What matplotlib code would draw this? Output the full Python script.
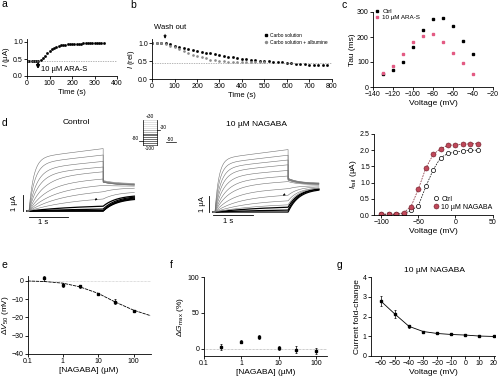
import matplotlib
matplotlib.use('Agg')
import matplotlib.pyplot as plt
import numpy as np

plt.rcParams['font.family'] = ['Liberation Sans', 'DejaVu Sans']
plt.rcParams['font.size'] = 5
plt.rcParams['axes.linewidth'] = 0.6
plt.rcParams['mathtext.fontset'] = 'custom'
plt.rcParams['mathtext.rm'] = 'Liberation Sans'
plt.rcParams['mathtext.it'] = 'Liberation Sans:italic'

# ---- data ----
# a: current after ARA-S
a_time = [0, 10, 20, 30, 40, 50, 60, 70, 80, 90, 100, 110, 120, 130, 140, 150, 160, 170,
          180, 190, 200, 210, 220, 230, 240, 250, 260, 270, 280, 290, 300, 310, 320, 330, 340]
a_curr = [0.45, 0.45, 0.45, 0.45, 0.45, 0.44, 0.46, 0.52, 0.6, 0.67, 0.73, 0.78, 0.83, 0.86,
          0.88, 0.9, 0.91, 0.92, 0.93, 0.94, 0.94, 0.95, 0.95, 0.95, 0.95, 0.96, 0.96, 0.96,
          0.96, 0.96, 0.97, 0.97, 0.97, 0.97, 0.97]

# b: wash out
b_time_carbo = list(range(0, 781, 20))
b_carbo = [1.0, 1.0, 1.0, 0.99, 0.96, 0.93, 0.9, 0.86, 0.83, 0.8, 0.77, 0.75, 0.73, 0.71,
           0.69, 0.67, 0.64, 0.62, 0.6, 0.58, 0.56, 0.55, 0.54, 0.52, 0.51, 0.5, 0.49, 0.48,
           0.47, 0.46, 0.45, 0.44, 0.43, 0.42, 0.41, 0.4, 0.4, 0.39, 0.38, 0.38]
b_time_alb = list(range(0, 501, 20))
b_alb = [1.0, 1.0, 1.0, 0.98, 0.93, 0.88, 0.83, 0.78, 0.73, 0.68, 0.64, 0.6, 0.57, 0.54,
         0.52, 0.5, 0.49, 0.48, 0.48, 0.47, 0.47, 0.47, 0.46, 0.46, 0.46, 0.46]

# c: tau vs voltage
c_volt = [-130, -120, -110, -100, -90, -80, -70, -60, -50, -40]
c_tau_ctrl = [54, 70, 102, 160, 228, 271, 275, 244, 185, 133]
c_tau_ara = [56, 86, 133, 180, 205, 212, 180, 137, 95, 54]

# d: current traces (-100 ... +30 mV steps, amplitude at end of step, uA)
d_amp_ctrl = [0, 0, 0.02, 0.12, 0.3, 0.75, 1.2, 1.6, 2.0, 2.45, 2.75, 3.1, 3.5, 3.9]
d_tau_ctrl = [1.5, 1.5, 1.5, 1.4, 1.2, 1.0, 0.8, 0.6, 0.45, 0.35, 0.25, 0.2, 0.15, 0.12]
d_tail0_ctrl = [0, 0, 0.02, 0.12, 0.3, 0.75, 1.2, 1.6, 1.8, 1.8, 1.8, 1.85, 1.85, 1.9]
d_tailinf_ctrl = [0.8, 0.85, 0.9, 0.95, 1.0, 1.2, 1.45, 1.55, 1.6, 1.6, 1.62, 1.64, 1.66, 1.7]
d_amp_nag = [0, 0.12, 0.3, 0.45, 0.7, 1.05, 1.45, 1.9, 2.25, 2.6, 2.95, 3.25, 3.55, 3.9]
d_tau_nag = [1.5, 1.4, 1.2, 1.0, 0.8, 0.6, 0.45, 0.35, 0.28, 0.22, 0.18, 0.15, 0.12, 0.1]
d_tail0_nag = [0, 0.12, 0.3, 0.45, 0.7, 1.05, 1.45, 1.9, 2.0, 2.0, 2.05, 2.05, 2.1, 2.1]
d_tailinf_nag = [1.45, 1.5, 1.5, 1.55, 1.55, 1.6, 1.65, 1.7, 1.72, 1.74, 1.75, 1.76, 1.78, 1.8]
prot_levels = [-100, -90, -80, -70, -60, -50, -40, -30, -20, -10, 0, 10, 20, 30]

# d right: tail current vs voltage
iv_volt = [-100, -90, -80, -70, -60, -50, -40, -30, -20, -10, 0, 10, 20, 30]
iv_ctrl = [0.02, 0.02, 0.02, 0.04, 0.14, 0.29, 0.88, 1.4, 1.77, 1.9, 1.94, 1.98, 2.0, 2.0]
iv_nag = [0.03, 0.03, 0.03, 0.07, 0.26, 0.81, 1.45, 1.87, 2.05, 2.15, 2.17, 2.18, 2.2, 2.2]

# e: dV50 vs concentration
conc = [0.3, 1, 3, 10, 30, 100]
e_dv50 = [1.5, -2.2, -3.0, -7.0, -11.3, -16.4]
e_err = [1.5, 1.0, 0.6, 0.6, 1.5, 0.6]
e_fit_x = [0.1, 0.3, 1, 3, 10, 30, 100, 300]
e_fit_y = [0, -0.3, -1.2, -3.2, -6.8, -11.5, -16.0, -19.0]

# f: dGmax vs concentration
f_dg = [2.3, 10, 16, 1, -1.5, -3]
f_err = [4, 2, 3, 3, 5, 4]

# g: fold change vs voltage
g_volt = [-60, -50, -40, -30, -20, -10, 0, 10, 20]
g_fold = [2.78, 2.12, 1.5, 1.24, 1.14, 1.09, 1.06, 1.01, 0.99]
g_err = [0.25, 0.2, 0.08, 0.04, 0.03, 0.03, 0.03, 0.02, 0.02]

W, H = 500, 384
fig = plt.figure(figsize=(W / 100, H / 100), dpi=100)


def box(l, t, r, b):
    return fig.add_axes([l / W, 1 - b / H, (r - l) / W, (b - t) / H])


def ftext(x, y, s, **kw):
    fig.text(x / W, 1 - y / H, s, **kw)


def style(ax):
    for s in ['top', 'right']:
        ax.spines[s].set_visible(False)
    ax.tick_params(length=2, width=0.6, pad=1, labelsize=5)


# panel letters
for x, y, s in [(2, 4, 'a'), (130, 5, 'b'), (342, 5, 'c'), (2, 123, 'd'),
                (2, 265, 'e'), (170, 265, 'f'), (337, 265, 'g')]:
    ftext(x, y, s, fontsize=7.5, va='center', ha='left')

# ---- a ----
ax = box(27, 38.6, 117, 76)
style(ax)
ax.plot(a_time, a_curr, 's', color='k', ms=0.9)
ax.axhline(0.45, color='0.6', lw=0.5, ls=(0, (2, 1.5)))
ax.annotate('', xy=(49, 0.12), xytext=(49, 0.45),
            arrowprops=dict(arrowstyle='-|>', lw=1.4, color='k', mutation_scale=4))
ax.text(62, 0.2, '10 µM ARA-S', fontsize=5.5, va='center')
ax.set_xlim(0, 400)
ax.set_ylim(0, 1.1)
ax.set_xticks([0, 100, 200, 300, 400])
ax.set_yticks([0, 0.5, 1.0])
ax.set_yticklabels(['0.0', '0.5', '1.0'])
ax.set_xlabel('Time (s)', fontsize=5.5, labelpad=1)
ax.set_ylabel(r'$I$ (µA)', fontsize=5.5, labelpad=1)

# ---- b ----
ax = box(152, 39.4, 332, 79)
style(ax)
ax.plot(b_time_carbo, b_carbo, 's', color='k', ms=0.9, label='Carbo solution')
ax.plot(b_time_alb, b_alb, 'o', color='0.55', ms=0.9, label='Carbo solution + albumine')
ax.axhline(0.45, color='0.6', lw=0.5, ls=(0, (2, 1.5)))
ax.annotate('', xy=(58, 1.04), xytext=(58, 1.32), annotation_clip=False,
            arrowprops=dict(arrowstyle='-|>', lw=0.6, color='k', mutation_scale=4))
ax.text(80, 1.42, 'Wash out', fontsize=5.5, ha='center', va='center', clip_on=False)
ax.set_xlim(0, 800)
ax.set_ylim(0, 1.1)
ax.set_xticks(range(0, 801, 100))
ax.set_yticks([0, 0.5, 1.0])
ax.set_yticklabels(['0.0', '0.5', '1.0'])
ax.set_xlabel('Time (s)', fontsize=5.5, labelpad=1)
ax.set_ylabel(r'$I$ (rel)', fontsize=5.5, labelpad=1)
ax.legend(loc='upper left', bbox_to_anchor=(0.6, 1.28), frameon=False, fontsize=3.5,
          handlelength=0.6, handletextpad=0.6, labelspacing=0.4, markerscale=1.6)

# ---- c ----
ax = box(373, 12, 493, 87)
style(ax)
ax.plot(c_volt, c_tau_ctrl, 's', color='k', ms=1.8, label='Ctrl')
ax.plot(c_volt, c_tau_ara, 's', color='#e35a83', ms=1.8, label='10 µM ARA-S')
ax.set_xlim(-140, -20)
ax.set_ylim(0, 300)
ax.set_xticks(range(-140, -19, 20))
ax.set_yticks([0, 100, 200, 300])
ax.set_xlabel('Voltage (mV)', fontsize=6, labelpad=1)
ax.set_ylabel('Tau (ms)', fontsize=6, labelpad=1)
ax.legend(loc='upper left', bbox_to_anchor=(0.0, 1.08), frameon=False, fontsize=4.5,
          handlelength=0.6, handletextpad=0.5, labelspacing=0.2, borderaxespad=0)

# ---- d traces ----
step_dur, tail_dur = 1.9, 0.8


def draw_traces(ax, amp, tau, tail0, tailinf, ttau):
    for A, tu, a0, ai in zip(amp, tau, tail0, tailinf):
        ts = np.linspace(0, step_dur, 150)
        i_step = A * (0.85 * (1 - np.exp(-ts / tu)) / (1 - np.exp(-step_dur / tu))
                      + 0.15 * ts / step_dur)
        tt = np.linspace(0, tail_dur, 80)
        i_tail = ai + (a0 - ai) * np.exp(-tt / ttau)
        t = np.concatenate([[-0.05, 0], ts, step_dur + tt])
        cur = np.concatenate([[0, 0], i_step, i_tail])
        if A < 0.35:
            ax.plot(t, cur, color='k', lw=0.9)
        else:
            ax.plot(t, cur, color='0.45', lw=0.4)


ax = box(5, 115, 150, 225)
ax.axis('off')
draw_traces(ax, d_amp_ctrl, d_tau_ctrl, d_tail0_ctrl, d_tailinf_ctrl, 0.35)
ax.set_xlim(-0.615, 3.10)
ax.set_ylim(-0.875, 6.0)
ax.plot([-0.15, -0.15], [0, 1], color='k', lw=0.6)
ax.plot([0, 1], [-0.375, -0.375], color='k', lw=0.6)
ax.text(0.22, -0.72, '1 s', fontsize=5.5, va='center')
ax.text(-0.36, 0.5, '1 µA', fontsize=5.5, rotation=90, va='center', ha='center')
ax.annotate('', xy=(1.63, 0.55), xytext=(1.78, 0.85),
            arrowprops=dict(arrowstyle='-|>', lw=0.4, color='k', mutation_scale=3))
ftext(76, 123, 'Control', fontsize=6, ha='center', va='center')

ax = box(200, 115, 335, 225)
ax.axis('off')
draw_traces(ax, d_amp_nag, d_tau_nag, d_tail0_nag, d_tailinf_nag, 0.28)
ax.set_xlim(-0.39, 3.12)
ax.set_ylim(-0.81, 6.06)
ax.plot([-0.16, -0.16], [0, 1], color='k', lw=0.6)
ax.plot([-0.05, 1.0], [-0.19, -0.19], color='k', lw=0.6)
ax.text(0.2, -0.6, '1 s', fontsize=5.5, va='center')
ax.text(-0.32, 0.5, '1 µA', fontsize=5.5, rotation=90, va='center', ha='center')
ax.annotate('', xy=(1.7, 0.95), xytext=(1.85, 1.15),
            arrowprops=dict(arrowstyle='-|>', lw=0.4, color='k', mutation_scale=3))
ftext(256, 125, '10 µM NAGABA', fontsize=6, ha='center', va='center')

# voltage protocol inset
ax = box(130, 112, 180, 152)
ax.axis('off')
ax.set_xlim(-1.76, 5.0)
ax.set_ylim(-136, 72)
for v in prot_levels:
    col = 'k' if v <= -40 else ('0.5' if v <= -20 else '0.8')
    ax.plot([0, step_dur], [v, v], color=col, lw=0.4)
ax.plot([0, 0], [-100, 30], color='k', lw=0.5)
ax.plot([step_dur, step_dur], [-100, 30], color='k', lw=0.5)
ax.plot([-0.55, 0], [-80, -80], color='k', lw=0.5)
ax.plot([step_dur, step_dur + 0.4], [-20, -20], color='k', lw=0.5)
ax.plot([3.1, 4.4], [-84, -84], color='k', lw=0.5)
ax.text(0.95, 34, '+30', fontsize=3.5, ha='center', va='bottom')
ax.text(0.95, -104, '-100', fontsize=3.5, ha='center', va='top')
ax.text(-0.5, -80, '-80', fontsize=3.5, ha='right', va='bottom')
ax.text(step_dur + 0.3, -20, '-30', fontsize=3.5, ha='left', va='bottom')
ax.text(3.75, -82, '-50', fontsize=3.5, ha='center', va='bottom')

# ---- d IV ----
ax = box(374, 134, 492.5, 215)
style(ax)
ax.plot(iv_volt, iv_ctrl, color='k', lw=0.5, ls=(0, (2.5, 1.5)))
ax.plot(iv_volt, iv_nag, color='#7a1f2b', lw=0.5, ls=(0, (2.5, 1.5)))
ax.plot(iv_volt, iv_ctrl, 'o', mfc='white', mec='k', mew=0.5, ms=3, label='Ctrl')
ax.plot(iv_volt, iv_nag, 'o', mfc='#c0485a', mec='#6a1a25', mew=0.4, ms=3.6,
        label='10 µM NAGABA')
ax.set_xlim(-110, 50)
ax.set_ylim(0, 2.5)
ax.set_xticks([-100, -50, 0, 50])
ax.set_yticks([0, 0.5, 1.0, 1.5, 2.0, 2.5])
ax.set_yticklabels(['0.0', '0.5', '1.0', '1.5', '2.0', '2.5'])
ax.set_xlabel('Voltage (mV)', fontsize=6, labelpad=1)
ax.set_ylabel(r'$I_{\rm tail}$ (µA)', fontsize=6, labelpad=1)
ax.legend(loc='lower left', bbox_to_anchor=(0.48, 0.02), frameon=False, fontsize=5,
          handlelength=0.6, handletextpad=0.5, labelspacing=0.15, borderaxespad=0)

# ---- e ----
ax = box(27.5, 275.5, 150.5, 354)
style(ax)
ax.set_xscale('log')
ax.axhline(0, color='0.75', lw=0.5, ls=(0, (1, 1)))
ax.plot(e_fit_x, e_fit_y, color='k', lw=0.6, ls=(0, (4, 1)))
ax.errorbar(conc, e_dv50, yerr=e_err, fmt='s', color='k', ms=1.8, elinewidth=0.5,
            capsize=1, capthick=0.5)
ax.set_xlim(0.1, 300)
ax.set_ylim(-40, 3)
ax.set_xticks([0.1, 1, 10, 100])
ax.set_xticklabels(['0.1', '1', '10', '100'])
ax.minorticks_off()
ax.set_yticks([0, -10, -20, -30, -40])
ax.set_xlabel('[NAGABA] (µM)', fontsize=6, labelpad=1)
ax.set_ylabel(r'$\Delta V_{50}$ (mV)', fontsize=6, labelpad=0)

# ---- f ----
ax = box(203.5, 277, 327.3, 356)
style(ax)
ax.set_xscale('log')
ax.axhline(0, color='0.6', lw=0.5, ls=(0, (1, 1)))
ax.errorbar(conc, f_dg, yerr=f_err, fmt='s', color='k', ms=1.8, elinewidth=0.5,
            capsize=1, capthick=0.5)
ax.set_xlim(0.1, 200)
ax.set_ylim(-10, 100)
ax.set_xticks([0.1, 1, 10, 100])
ax.set_xticklabels(['0.1', '1', '10', '100'])
ax.minorticks_off()
ax.set_yticks([0, 50, 100])
ax.set_xlabel('[NAGABA] (µM)', fontsize=6, labelpad=1)
ax.set_ylabel(r'$\Delta G_{\rm max}$ (%)', fontsize=6, labelpad=1)

# ---- g ----
ax = box(371, 277, 495, 356)
style(ax)
ax.errorbar(g_volt, g_fold, yerr=g_err, fmt='s-', color='k', ms=1.8, lw=0.6,
            elinewidth=0.5, capsize=1, capthick=0.5)
ax.set_xlim(-67, 21)
ax.set_ylim(0, 4)
ax.set_xticks(range(-60, 21, 10))
ax.set_yticks([0, 1, 2, 3, 4])
ax.set_xlabel('Voltage (mV)', fontsize=6, labelpad=1)
ax.set_ylabel('Current fold-change', fontsize=6, labelpad=1)
ftext(434, 271, '10 µM NAGABA', fontsize=6, ha='center', va='center')

fig.savefig('out.png', dpi=100)
